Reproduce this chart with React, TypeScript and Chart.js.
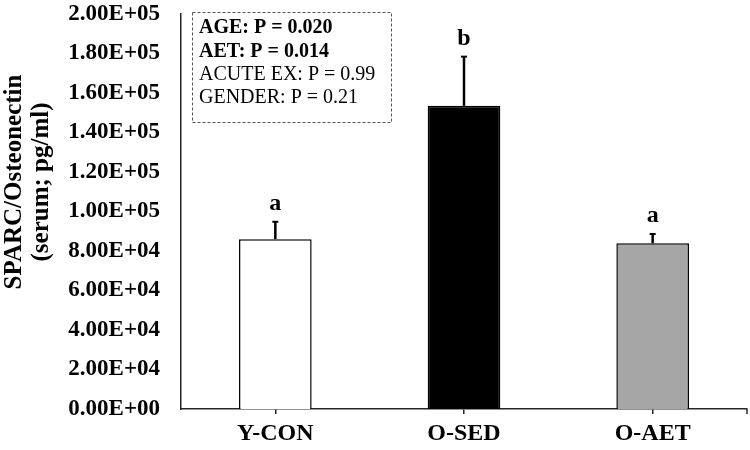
import React, { useEffect, useRef } from "react";
import { Chart, registerables } from "chart.js";

Chart.register(...registerables);

const categories = ["Y-CON", "O-SED", "O-AET"];
const means = [86000, 153500, 83900];
const errors = [8800, 24900, 4700];
const sigLetters = ["a", "b", "a"];
const barColors = ["#ffffff", "#000000", "#a6a6a6"];
const yTickLabels = [
  "0.00E+00",
  "2.00E+04",
  "4.00E+04",
  "6.00E+04",
  "8.00E+04",
  "1.00E+05",
  "1.20E+05",
  "1.40E+05",
  "1.60E+05",
  "1.80E+05",
  "2.00E+05",
];
const yTitleLines = ["SPARC/Osteonectin", "(serum; pg/ml)"];
const statLines = ["AGE: P = 0.020", "AET: P = 0.014", "ACUTE EX: P = 0.99", "GENDER: P = 0.21"];
const statBold = [true, true, false, false];

const SERIF = "'Liberation Serif', 'Times New Roman', serif";
const AXIS_COLOR = "#262626";

const overlayPlugin = {
  id: "overlay",
  afterDatasetsDraw(chart: any) {
    const ctx = chart.ctx;
    const yScale = chart.scales.y;
    const meta = chart.getDatasetMeta(0);
    ctx.save();
    meta.data.forEach((bar: any, i: number) => {
      const x = bar.x;
      const top = yScale.getPixelForValue(means[i] + errors[i]);
      ctx.strokeStyle = "#000";
      ctx.lineWidth = 2.5;
      ctx.beginPath();
      ctx.moveTo(x, bar.y);
      ctx.lineTo(x, top);
      ctx.stroke();
      ctx.lineWidth = 2;
      ctx.beginPath();
      ctx.moveTo(x - 3, top);
      ctx.lineTo(x + 3, top);
      ctx.stroke();
      ctx.fillStyle = "#000";
      ctx.font = `bold 24px ${SERIF}`;
      ctx.textAlign = "center";
      ctx.textBaseline = "alphabetic";
      ctx.fillText(sigLetters[i], x, top - 12);
    });
    ctx.restore();
  },
  afterDraw(chart: any) {
    const ctx = chart.ctx;
    const area = chart.chartArea;
    ctx.save();
    // right end tick of x axis
    ctx.strokeStyle = AXIS_COLOR;
    ctx.lineWidth = 1.5;
    ctx.beginPath();
    ctx.moveTo(area.right, area.bottom);
    ctx.lineTo(area.right, area.bottom + 5);
    ctx.stroke();

    // y axis title (two lines, rotated)
    ctx.fillStyle = "#000";
    ctx.font = `bold 25px ${SERIF}`;
    ctx.textAlign = "center";
    ctx.textBaseline = "middle";
    const cy = 182;
    const xs = [15, 42];
    yTitleLines.forEach((line, i) => {
      ctx.save();
      ctx.translate(xs[i], cy);
      ctx.rotate(-Math.PI / 2);
      ctx.fillText(line, 0, 0);
      ctx.restore();
    });

    // stats box
    ctx.setLineDash([3, 2]);
    ctx.strokeStyle = "#555";
    ctx.lineWidth = 1;
    ctx.strokeRect(192.5, 12.5, 199, 110);
    ctx.setLineDash([]);
    ctx.textAlign = "left";
    ctx.textBaseline = "middle";
    const ys = [28, 51.5, 75, 98];
    statLines.forEach((line, i) => {
      ctx.font = `${statBold[i] ? "bold " : ""}20px ${SERIF}`;
      ctx.fillText(line, 199, ys[i]);
    });
    ctx.restore();
  },
};

export default function App() {
  const canvasRef = useRef<HTMLCanvasElement | null>(null);

  useEffect(() => {
    if (!canvasRef.current) return;
    const chart = new Chart(canvasRef.current, {
      type: "bar",
      data: {
        labels: categories,
        datasets: [
          {
            data: means,
            backgroundColor: barColors,
            borderColor: "#000",
            borderWidth: 1.5,
            categoryPercentage: 1,
            barPercentage: 0.385,
          },
        ],
      },
      options: {
        responsive: false,
        animation: false,
        devicePixelRatio: 1,
        layout: { padding: { top: 14, right: 3, bottom: 0, left: 0 } },
        plugins: {
          legend: { display: false },
          tooltip: { enabled: false },
        },
        scales: {
          x: {
            grid: {
              display: true,
              drawOnChartArea: false,
              drawTicks: true,
              tickLength: 5,
              offset: false,
              color: AXIS_COLOR,
              lineWidth: 1.5,
            },
            border: { display: true, color: AXIS_COLOR, width: 1.5 },
            ticks: {
              color: "#000",
              font: { family: SERIF, size: 24, weight: "bold" },
              padding: 5,
            },
            afterFit: (s: any) => {
              s.height = 41;
              s.paddingLeft = 0;
              s.paddingRight = 0;
            },
          },
          y: {
            min: 0,
            max: 200000,
            ticks: {
              stepSize: 20000,
              callback: (_v: any, i: number) => yTickLabels[i],
              color: "#000",
              font: { family: SERIF, size: 23, weight: "bold" },
              padding: 21,
            },
            grid: { display: false, drawTicks: false },
            border: { display: true, color: AXIS_COLOR, width: 1.5 },
            afterFit: (s: any) => {
              s.width = 181;
              s.paddingTop = 0;
              s.paddingBottom = 0;
            },
          },
        },
      },
      plugins: [overlayPlugin],
    });
    return () => chart.destroy();
  }, []);

  return (
    <div style={{ position: "fixed", left: 0, top: 0, width: 750, height: 450, background: "#fff" }}>
      <canvas ref={canvasRef} width={750} height={450} />
    </div>
  );
}
